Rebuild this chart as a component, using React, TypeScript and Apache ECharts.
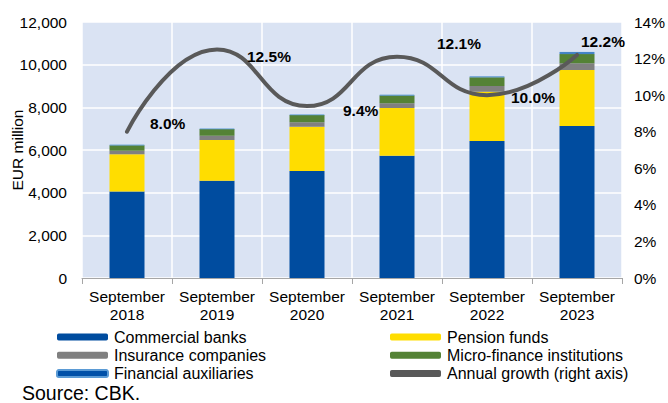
import React, { useEffect, useRef } from "react";
import * as echarts from "echarts";

const categories = ["September\n2018", "September\n2019", "September\n2020", "September\n2021", "September\n2022", "September\n2023"];
const commercialBanks = [4050, 4560, 5020, 5730, 6420, 7130];
const pensionFunds = [1750, 1910, 2070, 2240, 2310, 2620];
const insuranceCompanies = [170, 200, 210, 220, 270, 320];
const microFinance = [250, 310, 340, 370, 410, 430];
const financialAuxiliaries = [20, 20, 20, 25, 30, 90];
const annualGrowth = [8.0, 12.5, 9.4, 12.1, 10.0, 12.2];
const growthLabelOffsets = [
  [17.5, -8.7],
  [24.5, 6.6],
  [30.5, 3.9],
  [34.5, -13.7],
  [18.5, 1.9],
  [-1.5, -13.9],
];

const FONT = "Liberation Sans, Arial, sans-serif";

export default function App() {
  const ref = useRef<HTMLDivElement>(null);
  useEffect(() => {
    if (!ref.current) return;
    const chart = echarts.init(ref.current, undefined, { renderer: "svg" });
    const barBase = { type: "bar", stack: "total", barWidth: 35, yAxisIndex: 0 };
    const legendBase = {
      orient: "vertical",
      top: 329,
      padding: 0,
      itemWidth: 51,
      itemHeight: 7,
      itemGap: 2.3,
      textStyle: { fontSize: 16, lineHeight: 16, color: "#000", fontFamily: FONT, padding: [0, 0, 0, 1] },
    };
    chart.setOption({
      animation: false,
      textStyle: { fontFamily: FONT },
      grid: {
        left: 82,
        right: 46,
        top: 22,
        bottom: 125,
        containLabel: false,
        outerBoundsMode: "none",
        show: true,
        backgroundColor: "#DAE3F3",
        borderWidth: 0,
      },
      legend: [
        {
          ...legendBase,
          left: 56,
          data: ["Commercial banks", "Insurance companies", "Financial auxiliaries"],
        },
        {
          ...legendBase,
          left: 390,
          data: [
            "Pension funds",
            "Micro-finance institutions",
            {
              name: "Annual growth (right axis)",
              icon: "roundRect",
              itemStyle: { color: "#595959", opacity: 1 },
            },
          ],
        },
      ],
      xAxis: {
        type: "category",
        data: categories,
        axisLine: { lineStyle: { color: "#A6A6A6", width: 1 } },
        axisTick: { show: true, interval: 0, alignWithLabel: false, length: 6, lineStyle: { color: "#A6A6A6" } },
        splitLine: { show: true, interval: 0, lineStyle: { color: "#FFFFFF", width: 1.5 } },
        axisLabel: { interval: 0, fontSize: 15.5, color: "#000", fontFamily: FONT, lineHeight: 17.5, margin: 10 },
      },
      yAxis: [
        {
          type: "value",
          min: 0,
          max: 12000,
          interval: 2000,
          name: "EUR million",
          nameLocation: "middle",
          nameGap: 57,
          nameMoveOverlap: false,
          nameTextStyle: { fontSize: 15.5, color: "#000", fontFamily: FONT },
          axisLine: { show: false },
          axisTick: { show: false },
          splitLine: { show: true, lineStyle: { color: "#FFFFFF", width: 1.5 } },
          axisLabel: {
            fontSize: 15.5,
            color: "#000",
            fontFamily: FONT,
            margin: 15,
            formatter: (v: number) => v.toLocaleString("en-US"),
          },
        },
        {
          type: "value",
          min: 0,
          max: 14,
          interval: 2,
          position: "right",
          axisLine: { show: false },
          axisTick: { show: false },
          splitLine: { show: false },
          axisLabel: { fontSize: 15.5, color: "#000", fontFamily: FONT, margin: 12, formatter: "{value}%" },
        },
      ],
      series: [
        { ...barBase, name: "Commercial banks", data: commercialBanks, itemStyle: { color: "#004C9F" } },
        { ...barBase, name: "Pension funds", data: pensionFunds, itemStyle: { color: "#FFDD00" } },
        { ...barBase, name: "Insurance companies", data: insuranceCompanies, itemStyle: { color: "#808080" } },
        { ...barBase, name: "Micro-finance institutions", data: microFinance, itemStyle: { color: "#548235" } },
        {
          ...barBase,
          name: "Financial auxiliaries",
          data: financialAuxiliaries,
          itemStyle: { color: "#0050A8", borderColor: "#5B9BD5", borderWidth: 0.5 },
        },
        {
          type: "line",
          name: "Annual growth (right axis)",
          yAxisIndex: 1,
          smooth: 0.5,
          symbol: "circle",
          symbolSize: 1,
          showSymbol: true,
          itemStyle: { color: "rgba(89,89,89,0)", borderWidth: 0 },
          lineStyle: { color: "#595959", width: 4, cap: "round" },
          z: 10,
          data: annualGrowth.map((v, i) => ({
            value: v,
            label: {
              show: true,
              position: "right",
              distance: 5,
              offset: growthLabelOffsets[i],
              formatter: (p: any) => p.value.toFixed(1) + "%",
              fontSize: 15.5,
              fontWeight: "bold",
              color: "#000",
              fontFamily: FONT,
            },
          })),
        },
      ],
      graphic: [
        {
          type: "text",
          left: 22,
          top: 383,
          style: { text: "Source: CBK.", fontSize: 19.5, lineHeight: 18, fill: "#000", fontFamily: FONT },
        },
      ],
    });
    return () => chart.dispose();
  }, []);
  return <div ref={ref} style={{ width: 668, height: 403, position: "absolute", left: 0, top: 0 }} />;
}
